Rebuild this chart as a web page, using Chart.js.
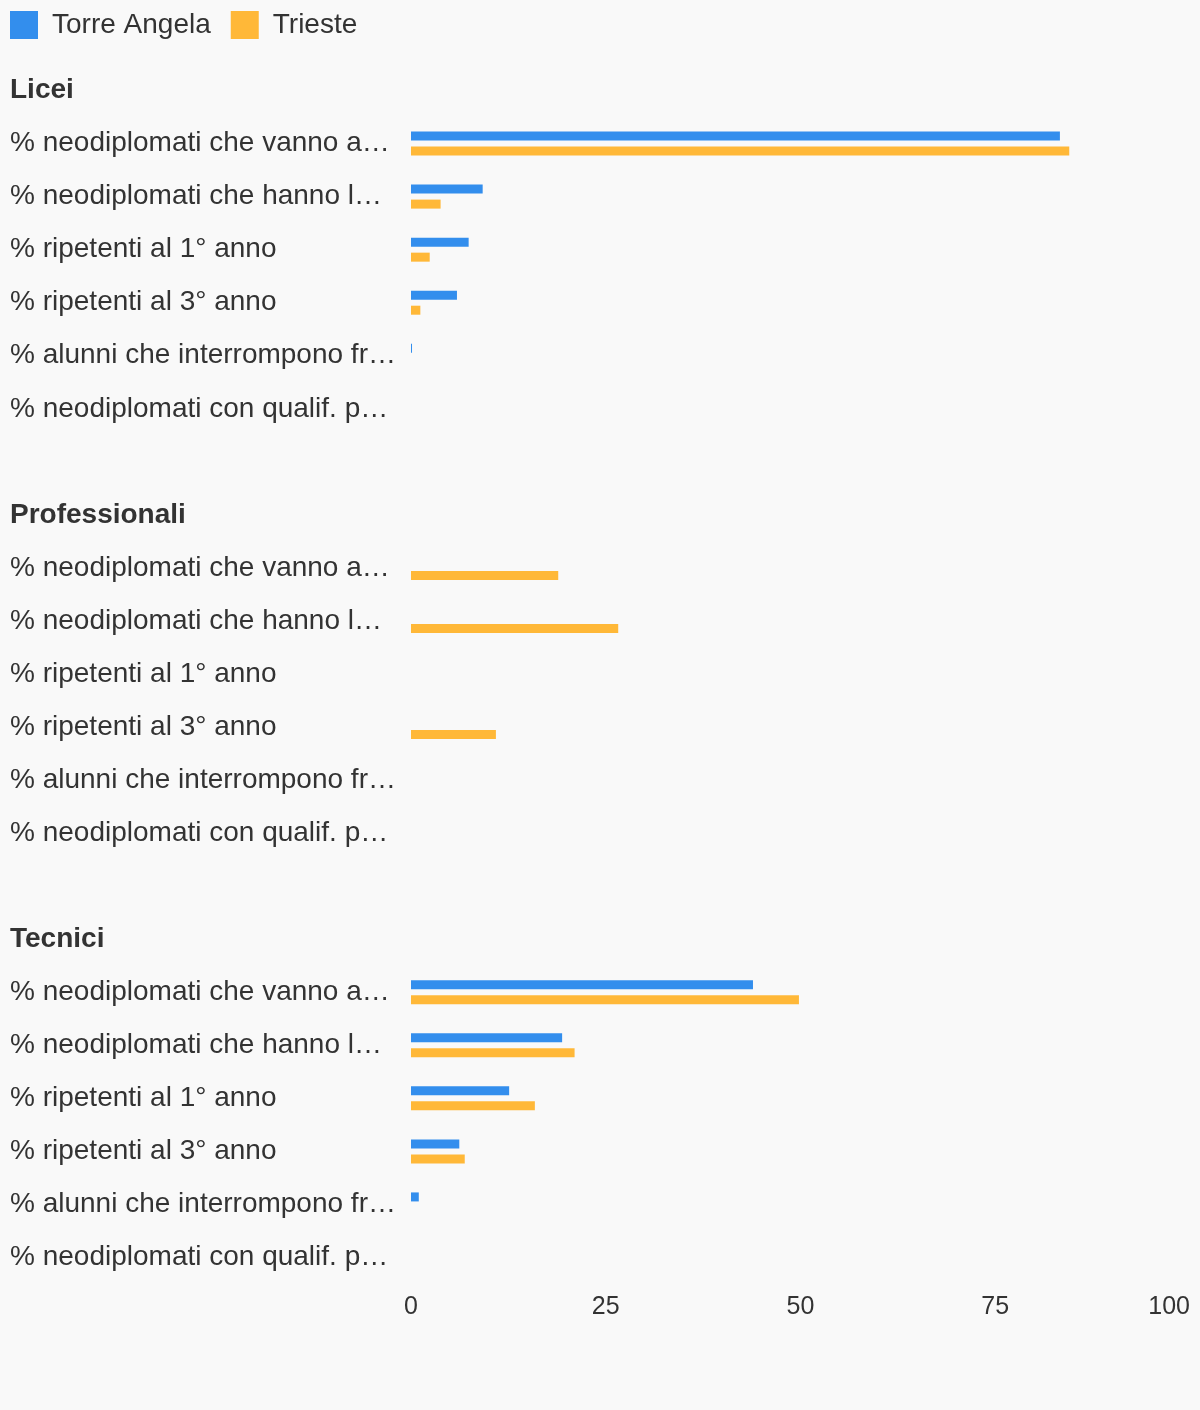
<!DOCTYPE html>
<html>
<head>
<meta charset="utf-8">
<script src="https://cdn.jsdelivr.net/npm/chart.js@4"></script>
<style>
  html, body { margin: 0; padding: 0; background: #f9f9f9; }
  #wrap { width: 1200px; height: 1410px; }
</style>
</head>
<body>
<div id="wrap"><canvas id="chart"></canvas></div>
<script>
const groups = ["Licei", "Professionali", "Tecnici"];
const indicators = [
  "% neodiplomati che vanno a…",
  "% neodiplomati che hanno l…",
  "% ripetenti al 1° anno",
  "% ripetenti al 3° anno",
  "% alunni che interrompono fr…",
  "% neodiplomati con qualif. p…"
];

// one array per group, same order as indicators
const torreLicei = [83.3, 9.2, 7.4, 5.9, 0.13, 0];
const triesteLicei = [84.5, 3.8, 2.4, 1.2, 0, 0];
const torreProf = [0, 0, 0, 0, 0, 0];
const triesteProf = [18.9, 26.6, 0, 10.9, 0, 0];
const torreTecnici = [43.9, 19.4, 12.6, 6.2, 1.0, 0];
const triesteTecnici = [49.8, 21.0, 15.9, 6.9, 0, 0];

const xTicks = [0, 25, 50, 75, 100];

// build rows: header, 6 indicators, blank spacer between groups
const labels = [];
const headerRows = [];
const torreData = [];
const triesteData = [];
const torreByGroup = [torreLicei, torreProf, torreTecnici];
const triesteByGroup = [triesteLicei, triesteProf, triesteTecnici];

groups.forEach((g, gi) => {
  if (gi > 0) {
    labels.push("");
    torreData.push(null);
    triesteData.push(null);
  }
  headerRows.push(labels.length);
  labels.push(g);
  torreData.push(null);
  triesteData.push(null);
  indicators.forEach((ind, i) => {
    labels.push(ind);
    torreData.push(torreByGroup[gi][i]);
    triesteData.push(triesteByGroup[gi][i]);
  });
});

const textColor = "#333333";
const fontFamily = "'Liberation Sans', Arial, sans-serif";

// nudge the legend: flush left and a bit more room below it
const legendTweak = {
  id: "legendTweak",
  beforeInit(chart) {
    const legend = chart.legend;
    const fit = legend.fit;
    legend.fit = function () {
      fit.call(this);
      this.height += 16;
    };
  },
  afterLayout(chart) {
    chart.legend.left -= 20;
    chart.legend.top += 1;
  }
};

new Chart(document.getElementById("chart"), {
  type: "bar",
  data: {
    labels: labels,
    datasets: [{
      label: "Torre Angela",
      data: torreData,
      backgroundColor: "#338eed",
      categoryPercentage: 0.566,
      barPercentage: 0.6
    }, {
      label: "Trieste",
      data: triesteData,
      backgroundColor: "#ffb838",
      categoryPercentage: 0.566,
      barPercentage: 0.6
    }]
  },
  plugins: [legendTweak],
  options: {
    indexAxis: "y",
    responsive: true,
    maintainAspectRatio: false,
    animation: false,
    layout: {
      padding: {left: 10, right: 10, top: -10, bottom: 88}
    },
    plugins: {
      legend: {
        display: true,
        position: "top",
        align: "start",
        labels: {
          boxWidth: 28,
          boxHeight: 28,
          padding: 20,
          color: textColor,
          font: {family: fontFamily, size: 28}
        }
      },
      tooltip: {enabled: false}
    },
    scales: {
      x: {
        min: 0,
        max: 100,
        afterBuildTicks: (scale) => {
          // leading blank tick so "0" stays centred while "100" hugs the right edge
          scale.ticks = [{value: 0}].concat(xTicks.map(v => ({value: v})));
        },
        grid: {display: false},
        border: {display: false},
        ticks: {
          autoSkip: false,
          align: "inner",
          maxRotation: 0,
          color: textColor,
          padding: 0,
          font: {family: fontFamily, size: 25},
          callback: (value, index) => index === 0 ? "" : String(value)
        }
      },
      y: {
        grid: {display: false},
        border: {display: false},
        afterFit: (scale) => { scale.width = 401; },
        ticks: {
          autoSkip: false,
          crossAlign: "far",
          color: textColor,
          font: (ctx) => ({
            family: fontFamily,
            size: 28,
            weight: headerRows.includes(ctx.index) ? "bold" : "normal"
          })
        }
      }
    }
  }
});
</script>
</body>
</html>
